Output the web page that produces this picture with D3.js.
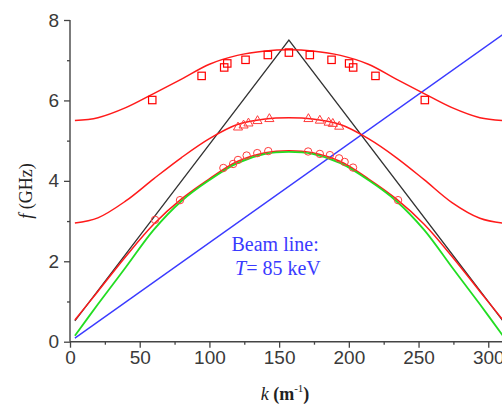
<!DOCTYPE html>
<html><head><meta charset="utf-8">
<script src="https://cdn.jsdelivr.net/npm/d3@7"></script>
<style>html,body{margin:0;padding:0;background:#fff;overflow:hidden}</style>
</head><body>
<svg id="chart" width="502" height="405"></svg>
<script>
// ---- data ----
const kGrid  = [3.5, 20, 40, 60, 80, 100, 120, 140, 157, 174, 194, 214, 234, 254, 274, 294, 310.5];
const mode3  = [5.50, 5.57, 5.82, 6.17, 6.53, 6.90, 7.12, 7.23, 7.26, 7.23, 7.12, 6.90, 6.53, 6.17, 5.82, 5.57, 5.50];
const mode2  = [2.95, 3.08, 3.50, 4.05, 4.58, 5.05, 5.40, 5.54, 5.57, 5.54, 5.40, 5.05, 4.58, 4.03, 3.46, 3.07, 2.95];
const mode1  = [0.54, 1.25, 2.12, 2.92, 3.55, 4.05, 4.48, 4.70, 4.75, 4.70, 4.48, 4.05, 3.55, 2.92, 2.12, 1.25, 0.54];
const greenF = [0.15, 0.93, 1.85, 2.78, 3.50, 4.02, 4.44, 4.67, 4.72, 4.67, 4.44, 4.02, 3.50, 2.78, 1.85, 0.93, 0.15];
const lightK = [3.5, 157, 310.5];
const lightF = [0.52, 7.5, 0.52];
const beamK  = [3.5, 310.5];
const beamF  = [0.09, 7.64];
const sqK = [59, 94.4, 110.6, 112.8, 125.9, 141.9, 157, 172, 187.6, 200.2, 203.1, 219.1, 254.5];
const sqF = [6.01, 6.61, 6.82, 6.92, 7.01, 7.13, 7.19, 7.13, 7.01, 6.92, 6.82, 6.61, 6.01];
const triK = [120.5, 124.5, 128, 134.5, 143, 171, 179.2, 185.5, 188.5, 193.1];
const triF = [5.33, 5.38, 5.43, 5.49, 5.54, 5.54, 5.50, 5.45, 5.42, 5.35];
const cirK = [61, 78.9, 110, 117, 120.5, 126.7, 134.3, 142.2, 170.8, 179.2, 186.4, 193, 197, 203, 235.3];
const cirF = [3.03, 3.52, 4.32, 4.42, 4.52, 4.63, 4.69, 4.74, 4.73, 4.67, 4.64, 4.56, 4.47, 4.33, 3.52];
const xMajor = [0, 50, 100, 150, 200, 250, 300];
const xMinor = [25, 75, 125, 175, 225, 275];
const yMajor = [0, 2, 4, 6, 8];
const yMinor = [1, 3, 5, 7];

// ---- drawing ----
const svg = d3.select("#chart");
const x = d3.scaleLinear().domain([0, 310]).range([70, 502.2]);
const y = d3.scaleLinear().domain([0, 8]).range([341.7, 20]);
const axisCol = "#444";

const line = d3.line().x(d => x(d[0])).y(d => y(d[1])).curve(d3.curveCatmullRom.alpha(0.5));
const straight = d3.line().x(d => x(d[0])).y(d => y(d[1]));
const zip = (a, b) => a.map((v, i) => [v, b[i]]);

const g = svg.append("g");
g.append("path").attr("d", straight(zip(beamK, beamF))).attr("fill", "none").attr("stroke", "#3a3aff").attr("stroke-width", 1.4);
g.append("path").attr("d", straight(zip(lightK, lightF))).attr("fill", "none").attr("stroke", "#333").attr("stroke-width", 1.3);
[mode3, mode2, mode1].forEach(m => {
  g.append("path").attr("d", line(zip(kGrid, m))).attr("fill", "none").attr("stroke", "#ff1a1a").attr("stroke-width", 1.5);
});
g.append("path").attr("d", line(zip(kGrid, greenF))).attr("fill", "none").attr("stroke", "#22dd22").attr("stroke-width", 1.8);

// markers
g.selectAll(".sq").data(zip(sqK, sqF)).join("rect")
  .attr("x", d => x(d[0]) - 3.7).attr("y", d => y(d[1]) - 3.7)
  .attr("width", 7.4).attr("height", 7.4)
  .attr("fill", "none").attr("stroke", "#ff0000").attr("stroke-width", 1.2);
const tri = d3.symbol().type(d3.symbolTriangle).size(36);
g.selectAll(".tri").data(zip(triK, triF)).join("path")
  .attr("d", tri).attr("transform", d => `translate(${x(d[0])},${y(d[1])})`)
  .attr("fill", "none").attr("stroke", "#ff3b3b").attr("stroke-width", 1);
g.selectAll(".cir").data(zip(cirK, cirF)).join("circle")
  .attr("cx", d => x(d[0])).attr("cy", d => y(d[1])).attr("r", 3.7)
  .attr("fill", "none").attr("stroke", "#ff3b3b").attr("stroke-width", 1);

// axes
const xAxis = svg.append("g").attr("transform", `translate(0,${y(0)})`)
  .call(d3.axisBottom(x).tickValues(xMajor).tickSize(6).tickPadding(3).tickFormat(d3.format("d")));
svg.append("g").attr("transform", `translate(0,${y(0)})`)
  .call(d3.axisBottom(x).tickValues(xMinor).tickSize(3).tickFormat(""))
  .call(s => s.select(".domain").remove());
const yAxis = svg.append("g").attr("transform", `translate(${x(0)},0)`)
  .call(d3.axisLeft(y).tickValues(yMajor).tickSize(6).tickPadding(5).tickFormat(d3.format("d")));
svg.append("g").attr("transform", `translate(${x(0)},0)`)
  .call(d3.axisLeft(y).tickValues(yMinor).tickSize(3).tickFormat(""))
  .call(s => s.select(".domain").remove());
svg.selectAll(".domain").attr("stroke", axisCol).attr("stroke-width", 1.4);
svg.selectAll(".tick line").attr("stroke", axisCol).attr("stroke-width", 1.3);
svg.selectAll(".tick text").attr("font-family", "Liberation Sans, Arial, sans-serif").attr("font-size", 19).attr("fill", "#3a3a3a");
xAxis.select(".domain").attr("d", `M${x(0)},0H502`);
yAxis.select(".domain").attr("d", `M0,${y(8)}V${y(0)}`);

// axis titles
const serif = "Liberation Serif, Times New Roman, serif";
const yt = svg.append("text").attr("transform", "translate(32,191) rotate(-90)")
  .attr("text-anchor", "middle").attr("font-family", serif).attr("font-size", 18).attr("fill", "#222");
yt.append("tspan").attr("font-style", "italic").text("f");
yt.append("tspan").text(" (GHz)");
const xt = svg.append("text").attr("x", 285).attr("y", 400)
  .attr("text-anchor", "middle").attr("font-family", serif).attr("font-size", 18).attr("fill", "#222");
xt.append("tspan").attr("font-style", "italic").text("k");
xt.append("tspan").attr("font-weight", "bold").text(" (m");
xt.append("tspan").attr("font-size", 11).attr("dy", -8).text("-1");
xt.append("tspan").attr("font-weight", "bold").attr("dy", 8).text(")");

// annotation
const ann = svg.append("g").attr("font-family", serif).attr("font-size", 20).attr("fill", "#3a3aff");
ann.append("text").attr("x", 231.5).attr("y", 250.5).text("Beam line:");
const t2 = ann.append("text").attr("x", 235).attr("y", 275);
t2.append("tspan").attr("font-style", "italic").text("T");
t2.append("tspan").text("= 85 keV");
</script>
</body></html>
